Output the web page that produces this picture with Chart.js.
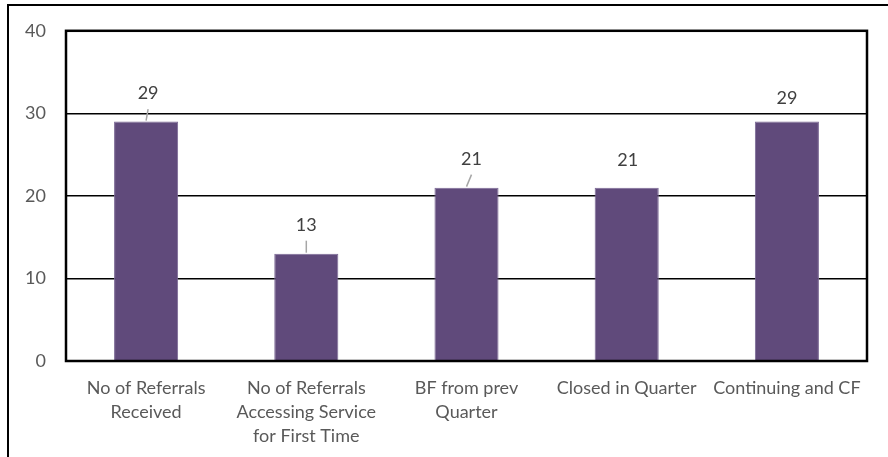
<!DOCTYPE html>
<html>
<head>
<meta charset="utf-8">
<script src="https://cdn.jsdelivr.net/npm/chart.js@4/dist/chart.umd.min.js"></script>
<style>
    html, body { margin: 0; padding: 0; background: #fff; overflow: hidden; }
    #wrap { position: relative; width: 888px; height: 457px; }
    #frame { position: absolute; left: 7px; top: 4px; width: 900px; height: 480px; border: 2px solid #000; box-sizing: border-box; }
    canvas { position: absolute; left: 0; top: 0; }
</style>
</head>
<body>
<div id="wrap">
    <div id="frame"></div>
    <canvas id="chart" width="888" height="457"></canvas>
</div>
<script>
const categories = [
    ['No of Referrals', 'Received'],
    ['No of Referrals', 'Accessing Service', 'for First Time'],
    ['BF from prev', 'Quarter'],
    'Closed in Quarter',
    'Continuing and CF'
];
const counts = [29, 13, 21, 21, 29];
const yTicks = [0, 10, 20, 30, 40];

// label placement as Excel left it (pixels relative to bar top centre)
const labelShiftX = [2, 0, 5, 1, 0];
const labelShiftY = [28, 28.5, 28.5, 27, 23];
const hasLeader = [true, true, true, false, false];

const FONT = 'Lato, "Open Sans", sans-serif';
const FONT_SIZE = 18;

const barLabels = {
    id: 'barLabels',
    afterDatasetsDraw(chart) {
        const ctx = chart.ctx;
        const meta = chart.getDatasetMeta(0);
        ctx.save();
        meta.data.forEach((bar, i) => {
            const lx = bar.x + labelShiftX[i];
            const ly = bar.y - labelShiftY[i];
            if (hasLeader[i]) {
                ctx.strokeStyle = '#a6a6a6';
                ctx.lineWidth = 1.5;
                ctx.beginPath();
                ctx.moveTo(bar.x, bar.y - 1);
                ctx.lineTo(lx, ly + 15.5);
                ctx.stroke();
            }
            ctx.fillStyle = '#404040';
            ctx.font = FONT_SIZE + 'px ' + FONT;
            ctx.textAlign = 'center';
            ctx.textBaseline = 'middle';
            ctx.fillText(String(counts[i]), lx, ly);
        });
        ctx.restore();
    }
};

const plotBorder = {
    id: 'plotBorder',
    afterDraw(chart) {
        const a = chart.chartArea;
        const ctx = chart.ctx;
        ctx.save();
        ctx.strokeStyle = '#000';
        ctx.lineWidth = 2.5;
        ctx.strokeRect(a.left, a.top, a.right - a.left, a.bottom - a.top);
        ctx.restore();
    }
};

new Chart(document.getElementById('chart').getContext('2d'), {
    type: 'bar',
    data: {
        labels: categories,
        datasets: [{
            data: counts,
            backgroundColor: '#604a7b',
            borderColor: '#7b6995',
            borderWidth: 1,
            categoryPercentage: 1,
            barPercentage: 0.4
        }]
    },
    options: {
        responsive: false,
        devicePixelRatio: 1,
        animation: false,
        layout: { padding: { top: 29, right: 21, bottom: 0, left: 0 } },
        plugins: {
            legend: { display: false },
            tooltip: { enabled: false }
        },
        scales: {
            y: {
                min: 0,
                max: 40,
                afterBuildTicks(scale) {
                    scale.ticks = yTicks.map(v => ({ value: v }));
                },
                afterFit(scale) { scale.width = 66; },
                border: { display: false },
                grid: { color: '#000', lineWidth: 1.5, drawTicks: false },
                ticks: { color: '#595959', font: { family: FONT, size: FONT_SIZE }, padding: 20 }
            },
            x: {
                afterFit(scale) { scale.height = 96; },
                border: { display: false },
                grid: { display: false },
                ticks: {
                    color: '#595959',
                    font: { family: FONT, size: FONT_SIZE, lineHeight: 1.34 },
                    padding: 7,
                    maxRotation: 0,
                    autoSkip: false
                }
            }
        }
    },
    plugins: [barLabels, plotBorder]
});
</script>
</body>
</html>
